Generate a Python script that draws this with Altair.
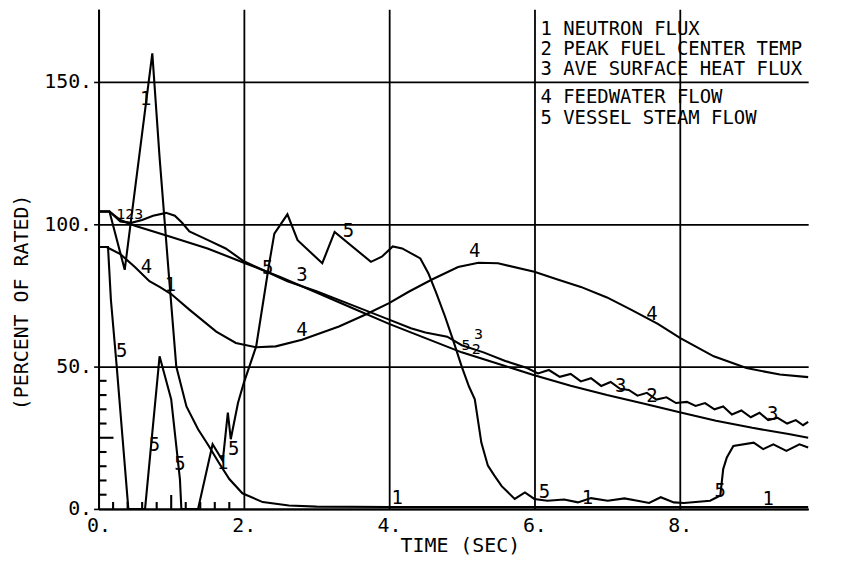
import altair as alt
import pandas as pd

# ---- data (time in s, percent of rated) ----
T1 = [0, 0.15, 0.36, 0.74, 0.84, 0.97, 1.07, 1.21, 1.37, 1.52, 1.65, 1.8, 1.98, 2.26, 2.62, 3.0, 4.0, 5.0, 6.0, 7.0, 8.0, 9.0, 9.77]
V1 = [104.5, 104.5, 84, 160, 123.5, 81.5, 50, 36, 28, 22, 16.5, 10.5, 5.5, 2.4, 1.2, 0.8, 0.7, 0.7, 0.7, 0.7, 0.7, 0.7, 0.7]

T2 = [0, 0.15, 0.3, 0.5, 1.0, 1.5, 2.0, 2.5, 3.0, 3.5, 4.0, 4.5, 5.0, 5.5, 6.0, 6.5, 7.0, 7.5, 8.0, 8.5, 9.0, 9.5, 9.77]
V2 = [104.5, 104.5, 101.5, 99.5, 95.5, 91.5, 86.5, 81.5, 76.0, 70.5, 65.0, 60.0, 55.0, 51.0, 47.0, 43.3, 40.0, 37.0, 34.0, 31.0, 28.5, 26.3, 25.0]

T3 = [0, 0.15, 0.3, 0.45, 0.6, 0.75, 0.93, 1.05, 1.15, 1.25, 1.5, 1.75, 2.0, 2.3, 2.6, 3.0, 3.5, 4.0, 4.3, 4.5, 4.8, 5.0, 5.3, 5.6, 5.9,
      6.05, 6.2, 6.35, 6.5, 6.64, 6.78, 6.92, 7.05, 7.18, 7.3, 7.42, 7.55, 7.68, 7.82, 7.95, 8.1, 8.22, 8.35, 8.48, 8.6, 8.72,
      8.85, 8.98, 9.1, 9.22, 9.35, 9.48, 9.6, 9.7, 9.77]
V3 = [104.5, 104.5, 101, 100.5, 101.5, 103, 104, 103, 100.5, 97.5, 94.5, 91.5, 87, 83.5, 80, 76.5, 71.5, 66.5, 63.5, 62, 60.5, 57.5, 55, 52, 49.5,
      47.6, 48.8, 46.4, 47.4, 44.8, 45.9, 43.2, 44.6, 42.2, 41.8, 39.8, 40.8, 38.4, 39.2, 37.2, 37.6, 36.2, 37.2, 35.0, 36.0, 33.2,
      34.6, 32.2, 33.8, 31.2, 32.0, 30.0, 31.2, 29.4, 30.6]

T4 = [0, 0.11, 0.3, 0.5, 0.7, 0.84, 1.0, 1.25, 1.62, 1.89, 2.17, 2.44, 2.8, 3.31, 3.67, 4.0, 4.27, 4.59, 4.95, 5.23, 5.5, 6.0, 6.32, 6.64,
      7.0, 7.33, 7.7, 8.01, 8.47, 8.92, 9.38, 9.77]
V4 = [92, 92, 89.5, 85, 80, 78, 75.5, 70, 62.3, 58.3, 56.8, 57.1, 59.4, 64.1, 68.2, 72.3, 76.3, 80.6, 85, 86.5, 86.3, 83.3, 80.6, 78,
      74.3, 70, 65, 60, 53.6, 49.5, 47.2, 46.3]

T5 = [0, 0.13, 0.17, 0.25, 0.33, 0.41, 0.64, 0.84, 1.0, 1.12, 1.14, 1.37, 1.57, 1.71, 1.78, 1.82, 1.92, 2.0, 2.17, 2.35, 2.42, 2.6,
      2.74, 3.08, 3.25, 3.75, 3.9, 4.05, 4.18, 4.31, 4.43, 4.54, 4.65, 4.77, 4.88, 5.0, 5.1, 5.18, 5.27, 5.36, 5.45, 5.55, 5.73, 5.87,
      6.0, 6.18, 6.41, 6.6, 6.78, 7.01, 7.24, 7.42, 7.58, 7.74, 7.92, 8.06, 8.42, 8.56, 8.6, 8.65, 8.74, 9.02, 9.15, 9.29, 9.47, 9.65, 9.77]
V5 = [92, 92, 73.4, 50, 25, 0, 0, 53.6, 38.5, 10.5, 0, 0, 22.7, 16.9, 33.8, 24.5, 37.3, 44.3, 57.1, 86.3, 96.7, 103.5,
      94.4, 86.3, 97.3, 86.8, 88.6, 92.2, 91.5, 89.7, 88, 82.8, 75.8, 67.6, 59.4, 50, 43, 38.5, 23.3, 15.2, 11.7, 8, 3.5, 5.8,
      3.5, 2.9, 3.3, 2.3, 3.8, 2.9, 3.7, 2.9, 2.1, 4.1, 2.3, 2.1, 2.9, 4.7, 14, 18.1, 22.1, 23.3, 21, 22.7, 20.4, 22.7, 21.6]

# curve number labels drawn on the plot
LAB_TEXT = ["1", "4", "1", "5", "5", "5", "1", "5", "5", "3", "4", "5", "1", "4", "5", "1", "4", "3", "2", "3", "5", "1"]
LAB_T = [0.65, 0.66, 0.99, 0.32, 0.77, 1.12, 1.71, 1.86, 2.33, 2.8, 2.8, 3.44, 4.11, 5.18, 6.14, 6.73, 7.62, 7.19, 7.62, 9.28, 8.56, 9.22]
LAB_V = [144, 85, 78.5, 55.5, 22.3, 15.7, 16.3, 21, 84.5, 82, 63, 97.5, 4, 90.5, 6, 4, 68.5, 43, 39.6, 33.2, 6.4, 3.5]
SMALL_TEXT = ["123", "5", "3", "2"]
SMALL_T = [0.43, 5.06, 5.23, 5.2]
SMALL_V = [103.5, 57.5, 61.5, 56]

LEGEND = ["1 NEUTRON FLUX", "2 PEAK FUEL CENTER TEMP", "3 AVE SURFACE HEAT FLUX", "4 FEEDWATER FLOW", "5 VESSEL STEAM FLOW"]

X_MAJOR = [0, 2, 4, 6, 8]
Y_MAJOR = [0, 50, 100, 150]
X_MINOR = [0.2, 0.4, 0.6, 0.8, 1.2, 1.4, 1.6, 1.8]
X_MINOR_LONG = [1.0]
Y_MINOR = [5, 10, 15, 20, 30, 35, 40, 45]
Y_MINOR_LONG = [25]

FONT = "DejaVu Sans Mono"
W, H = 713, 502
XMAX, YMAX = 9.77, 175.5

# ---- build one table: curves plus short inward axis ticks (two-point segments) ----
rows = []
for sid, (ts, vs) in enumerate([(T1, V1), (T2, V2), (T3, V3), (T4, V4), (T5, V5)], start=1):
    for i, (t, v) in enumerate(zip(ts, vs)):
        rows.append({"series": f"c{sid}", "t": t, "v": v, "i": i})
k = 0
for vals, px in [(X_MINOR, 7), (X_MINOR_LONG, 14)]:
    for t in vals:
        rows += [{"series": f"xt{k}", "t": t, "v": 0.0, "i": 0},
                 {"series": f"xt{k}", "t": t, "v": px / H * YMAX, "i": 1}]
        k += 1
for vals, px in [(Y_MINOR, 8), (Y_MINOR_LONG, 15)]:
    for v in vals:
        rows += [{"series": f"yt{k}", "t": 0.0, "v": v, "i": 0},
                 {"series": f"yt{k}", "t": px / W * XMAX, "v": v, "i": 1}]
        k += 1
curves = pd.DataFrame(rows)

labels = pd.DataFrame({"t": LAB_T, "v": LAB_V, "txt": LAB_TEXT})
small = pd.DataFrame({"t": SMALL_T, "v": SMALL_V, "txt": SMALL_TEXT})

xs = alt.Scale(domain=[0, XMAX], nice=False, zero=False)
ys = alt.Scale(domain=[0, YMAX], nice=False, zero=False)

x_axis = alt.Axis(
    values=X_MAJOR, grid=True, labelExpr="datum.value + '.'", title="TIME (SEC)",
    tickSize=0, labelPadding=7, labelFlush=False, labelOverlap=False,
    titleX=363, titleY=37, titleBaseline="middle", titleAlign="center")
y_axis = alt.Axis(
    values=Y_MAJOR, grid=True, labelExpr="datum.value + '.'", title="(PERCENT OF RATED)",
    tickSize=5, labelPadding=2, labelFlush=False, labelOverlap=False,
    titleX=-77, titleY=294, titleBaseline="middle", titleAlign="center", titleAngle=270)

X = alt.X("t:Q", scale=xs, axis=x_axis)
Y = alt.Y("v:Q", scale=ys, axis=y_axis)

lines = alt.Chart(curves).mark_line(color="black", strokeWidth=2.1).encode(
    x=X, y=Y, detail="series:N", order="i:Q")

lab = alt.Chart(labels).mark_text(font=FONT, fontSize=19, color="black").encode(x=X, y=Y, text="txt:N")
lab_small = alt.Chart(small).mark_text(font=FONT, fontSize=15, color="black").encode(x=X, y=Y, text="txt:N")

legend_y = [20, 40, 60, 88, 109]
legend_layers = [
    alt.Chart(pd.DataFrame({"txt": [txt]})).mark_text(
        font=FONT, fontSize=19, color="black", align="left", baseline="middle").encode(
        x=alt.value(444), y=alt.value(legend_y[n]), text="txt:N")
    for n, txt in enumerate(LEGEND)
]

chart = alt.layer(
    lines, lab, lab_small, *legend_layers
).properties(
    width=W, height=H,
    autosize=alt.AutoSizeParams(type="none"),
    padding={"left": 91, "top": 0, "right": 38, "bottom": 54},
    background="white",
).configure_view(stroke="transparent").configure_axis(
    domainColor="black", domainWidth=2, gridColor="black", gridWidth=1.8, gridOpacity=1,
    tickColor="black", tickWidth=1.6,
    labelFont=FONT, labelFontSize=20, labelColor="black",
    titleFont=FONT, titleFontSize=20, titleFontWeight="normal", titleColor="black",
)

chart.save("out.html", embed_options={"renderer": "svg", "actions": False})
